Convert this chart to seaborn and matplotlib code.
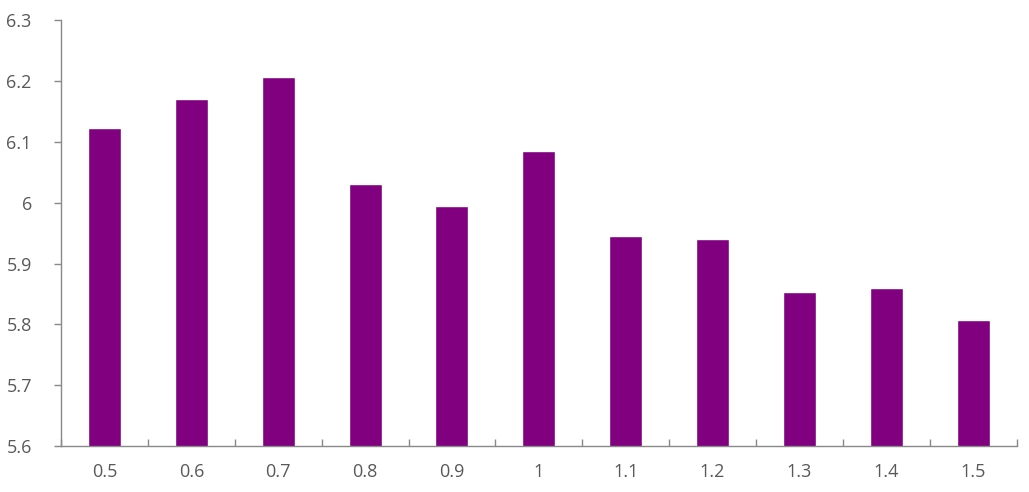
import numpy as np
import pandas as pd
import seaborn as sns
import matplotlib.pyplot as plt

# data
categories = ['0.5', '0.6', '0.7', '0.8', '0.9', '1', '1.1', '1.2', '1.3', '1.4', '1.5']
values = [6.122, 6.170, 6.206, 6.030, 5.995, 6.085, 5.946, 5.940, 5.853, 5.860, 5.807]
y_ticks = [5.6, 5.7, 5.8, 5.9, 6.0, 6.1, 6.2, 6.3]
y_tick_labels = ['5.6', '5.7', '5.8', '5.9', '6', '6.1', '6.2', '6.3']

df = pd.DataFrame({'x': categories, 'y': values})

sns.set_style('white')
plt.rcParams['font.family'] = ['Open Sans', 'DejaVu Sans']
text_color = '#595959'
axis_color = '#898989'

fig = plt.figure(figsize=(10.29, 4.92), dpi=100)
ax = fig.add_axes([0.0593, 0.0935, 0.9287, 0.8655])

sns.barplot(data=df, x='x', y='y', order=categories, color='#800080',
            saturation=1, width=0.38, ax=ax)

ax.set_ylim(5.6, 6.3)
ax.set_xlim(-0.5, len(categories) - 0.5)
ax.set_yticks(y_ticks)
ax.set_yticklabels(y_tick_labels)
ax.set_xlabel('')
ax.set_ylabel('')

# category separators as small inward ticks
ax.set_xticks(np.arange(-0.5, len(categories)), minor=True)
ax.tick_params(axis='x', which='major', length=0, pad=12, labelsize=13, labelcolor=text_color)
ax.tick_params(axis='x', which='minor', direction='in', length=5, width=1, color=axis_color, bottom=True)
ax.tick_params(axis='y', which='major', direction='out', length=5, width=1, color=axis_color,
               labelsize=13, labelcolor=text_color, pad=16, left=True)

for side in ['top', 'right']:
    ax.spines[side].set_visible(False)
for side in ['left', 'bottom']:
    ax.spines[side].set_color(axis_color)
    ax.spines[side].set_linewidth(1)

fig.savefig('out.png', dpi=100)
